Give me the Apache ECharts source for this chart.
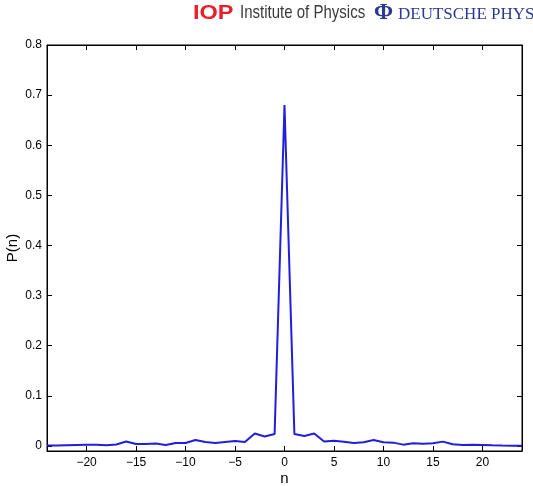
<!DOCTYPE html>
<html>
<head>
<meta charset="utf-8">
<script src="https://cdn.jsdelivr.net/npm/echarts@6/dist/echarts.min.js"></script>
<style>
  html, body { margin: 0; padding: 0; background: #fff; }
  #chart { width: 533px; height: 486px; }
</style>
</head>
<body>
<div id="chart"></div>
<script>
// n 取值 -24 .. 24
var nValues = [-24, -23, -22, -21, -20, -19, -18, -17, -16, -15, -14, -13, -12, -11, -10, -9, -8, -7, -6, -5, -4, -3, -2, -1,
  0, 1, 2, 3, 4, 5, 6, 7, 8, 9, 10, 11, 12, 13, 14, 15, 16, 17, 18, 19, 20, 21, 22, 23, 24];
// P(n)
var pValues = [0.001, 0.001, 0.0015, 0.002, 0.0025, 0.0025, 0.0015, 0.003, 0.009, 0.004, 0.004, 0.005, 0.002, 0.006, 0.006, 0.012, 0.008, 0.006, 0.008, 0.010, 0.008, 0.025, 0.019, 0.024,
  0.68, 0.024, 0.020, 0.025, 0.009, 0.0105, 0.0085, 0.006, 0.0073, 0.012, 0.0073, 0.0067, 0.0027, 0.0053, 0.0047, 0.0053, 0.0087, 0.0033, 0.002, 0.0027, 0.002, 0.0013, 0.0008, 0.0007, 0.0007];
var xTicks = [-20, -15, -10, -5, 0, 5, 10, 15, 20];
var yTicks = [0, 0.1, 0.2, 0.3, 0.4, 0.5, 0.6, 0.7, 0.8];

var chart = echarts.init(document.getElementById('chart'), null, { renderer: 'canvas' });

var lineData = [];
for (var i = 0; i < nValues.length; i++) {
  lineData.push([nValues[i], pValues[i]]);
}

var fontName = '"Liberation Sans", Arial, sans-serif';

function xFmt(v) {
  return v < 0 ? '\u2212' + Math.abs(v) : String(v);
}
function yFmt(v) {
  return v === 0 ? '0' : v.toFixed(1);
}

var option = {
  animation: false,
  backgroundColor: '#ffffff',
  textStyle: { fontFamily: fontName },
  // 顶部 logo 文字
  graphic: [
    { type: 'text', x: 193, y: 3, scaleX: 1.12, style: { text: 'IOP', fill: '#e8202a', font: 'bold 21px "Liberation Sans", Arial, sans-serif' } },
    { type: 'text', x: 240, y: 3, scaleX: 0.79, style: { text: 'Institute of Physics', fill: '#3a3a3a', font: '19px "Liberation Sans", Arial, sans-serif' } },
    { type: 'text', x: 374, y: 2, style: { text: '\u03A6', fill: '#2b3990', font: 'bold 23px "Liberation Serif", serif' } },
    { type: 'text', x: 398, y: 6, style: { text: 'DEUTSCHE PHYSIKALISCHE', fill: '#2b3990', font: '17px "Liberation Serif", serif' } }
  ],
  grid: {
    left: 47,
    right: 11,
    top: 45,
    bottom: 35,
    containLabel: false,
    outerBoundsMode: 'none',
    show: true,
    borderColor: '#000',
    borderWidth: 1
  },
  xAxis: [{
    type: 'value',
    min: -24,
    max: 24,
    position: 'bottom',
    name: 'n',
    nameLocation: 'middle',
    nameGap: 20,
    nameMoveOverlap: false,
    nameTextStyle: { fontSize: 15, color: '#000' },
    axisLine: { show: true, onZero: false, lineStyle: { color: '#000', width: 1 } },
    axisTick: { show: true, inside: true, length: 5, customValues: xTicks, lineStyle: { color: '#000' } },
    axisLabel: { customValues: xTicks, formatter: xFmt, color: '#000', fontSize: 12, margin: 6 },
    splitLine: { show: false }
  }, {
    type: 'value',
    min: -24,
    max: 24,
    position: 'top',
    axisLine: { show: true, onZero: false, lineStyle: { color: '#000' } },
    axisTick: { show: true, inside: true, length: 5, customValues: xTicks, lineStyle: { color: '#000' } },
    axisLabel: { show: false },
    splitLine: { show: false }
  }],
  yAxis: [{
    type: 'value',
    min: -0.01,
    max: 0.8,
    position: 'left',
    name: 'P(n)',
    nameLocation: 'middle',
    nameGap: 27,
    nameMoveOverlap: false,
    nameTextStyle: { fontSize: 15, color: '#000' },
    axisLine: { show: true, onZero: false, lineStyle: { color: '#000', width: 1 } },
    axisTick: { show: true, inside: true, length: 5, customValues: yTicks, lineStyle: { color: '#000' } },
    axisLabel: { customValues: yTicks, formatter: yFmt, color: '#000', fontSize: 12, margin: 5 },
    splitLine: { show: false }
  }, {
    type: 'value',
    min: -0.01,
    max: 0.8,
    position: 'right',
    axisLine: { show: true, onZero: false, lineStyle: { color: '#000' } },
    axisTick: { show: true, inside: true, length: 5, customValues: yTicks, lineStyle: { color: '#000' } },
    axisLabel: { show: false },
    splitLine: { show: false }
  }],
  series: [{
    type: 'line',
    xAxisIndex: 0,
    yAxisIndex: 0,
    data: lineData,
    showSymbol: false,
    lineStyle: { color: '#1f1fdc', width: 2 }
  }]
};

chart.setOption(option);
</script>
</body>
</html>
